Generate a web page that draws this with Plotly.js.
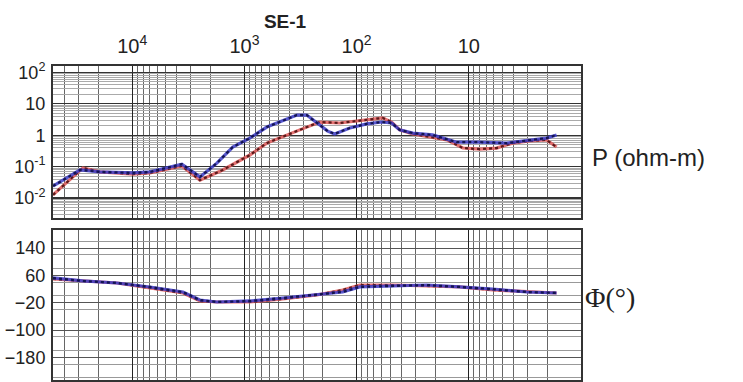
<!DOCTYPE html>
<html><head><meta charset="utf-8">
<script src="https://cdn.plot.ly/plotly-3.0.1.min.js"></script>
<style>html,body{margin:0;padding:0;background:#fff;}#chart{width:743px;height:382px;}</style>
</head><body><div id="chart"></div>
<script>
// Frequency (Hz) and apparent resistivity (ohm-m) / phase (deg)
const freqBlue = [50800, 29200, 19400, 9860, 6950, 3610, 2490, 1760, 1270, 895, 631, 455, 341, 278, 226, 181, 157, 115, 81.3, 59.8, 48.8, 41.3, 31.6, 21.0, 12.8, 8.0, 4.6, 2.87, 2.03, 1.65];
const rhoBlue  = [0.024, 0.078, 0.068, 0.063, 0.068, 0.12, 0.047, 0.129, 0.42, 0.81, 1.82, 2.82, 4.37, 4.37, 2.45, 1.35, 1.10, 1.70, 2.29, 2.63, 2.45, 1.48, 1.17, 1.02, 0.60, 0.60, 0.56, 0.71, 0.81, 1.02];
const freqRed  = [50800, 27500, 19400, 9860, 6950, 3610, 2490, 1560, 895, 631, 321, 213, 141, 81.3, 58.6, 48.8, 41.3, 31.6, 21.0, 15.7, 11.3, 8.0, 5.65, 4.07, 2.87, 2.03, 1.65];
const rhoRed   = [0.0126, 0.091, 0.068, 0.058, 0.063, 0.105, 0.037, 0.078, 0.234, 0.56, 1.48, 2.63, 2.45, 3.02, 3.55, 2.63, 1.48, 1.10, 0.87, 0.71, 0.39, 0.36, 0.39, 0.56, 0.66, 0.71, 0.42];
const freqPhase = [50800, 27500, 13700, 6950, 3530, 2490, 1760, 895, 455, 226, 133, 93.8, 47.8, 23.7, 12.1, 6.12, 3.05, 1.65];
const phaseBlue = [52.7, 43.9, 38, 26.3, 11.6, -11.8, -17.7, -14.7, -5.9, 2.9, 11.6, 26.3, 29.2, 32.1, 26.3, 20.4, 11.6, 8.7];
const phaseRed  = [49.7, 43.9, 38, 23.4, 8.7, -14.7, -17.7, -17.7, -8.9, 2.9, 17.5, 32.1, 32.1, 29.2, 26.3, 17.5, 11.6, 8.7];
const xTickVals = [10000, 1000, 100, 10];
const xTickText = ['10<sup>4</sup>', '10<sup>3</sup>', '10<sup>2</sup>', '10'];
const yTickVals = [100, 10, 1, 0.1, 0.01];
const yTickText = ['10<sup>2</sup>', '10', '1', '10<sup>-1</sup>', '10<sup>-2</sup>'];
const phTickVals = [140, 60, -20, -100, -180];

const BLUE = '#3c3cc8', BLUEDK = '#141450', RED = '#e05a5a', REDDK = '#5a1a1a';
function pair(x, y, xa, ya, c, dk) {
  return [
    {x: x, y: y, xaxis: xa, yaxis: ya, mode: 'lines', line: {color: c, width: 3.2}, opacity: 0.85, hoverinfo: 'skip', showlegend: false},
    {x: x, y: y, xaxis: xa, yaxis: ya, mode: 'lines', line: {color: dk, width: 2.2, dash: 'dot'}, showlegend: false}
  ];
}
const data = [].concat(
  pair(freqRed, rhoRed, 'x', 'y', RED, REDDK),
  pair(freqBlue, rhoBlue, 'x', 'y', BLUE, BLUEDK),
  pair(freqPhase, phaseRed, 'x2', 'y2', RED, REDDK),
  pair(freqPhase, phaseBlue, 'x2', 'y2', BLUE, BLUEDK)
);
const FONT = 'Liberation Sans, Arial, sans-serif';
const xBase = {
  type: 'log', range: [4.706, 0.0], showgrid: true, gridcolor: '#222', gridwidth: 1.2,
  tickvals: xTickVals, ticktext: xTickText,
  minor: {showgrid: true, gridcolor: '#666', gridwidth: 1, dtick: 'D1'},
  showline: true, mirror: true, linecolor: '#333', linewidth: 2, zeroline: false,
  automargin: false, ticks: ''
};
const layout = {
  width: 743, height: 382,
  margin: {l: 53, r: 162, t: 0, b: 0},
  paper_bgcolor: '#fff', plot_bgcolor: '#fff',
  font: {family: FONT, color: '#222', size: 18},
  title: {text: '<b>SE-1</b>', x: 285/743, xanchor: 'center', y: 1 - 21/382, yanchor: 'middle', font: {family: FONT, size: 19, color: '#222'}},
  xaxis: Object.assign({}, xBase, {domain: [0, 1], anchor: 'y', side: 'top', showticklabels: true, tickfont: {size: 20}, ticklabelstandoff: 3}),
  yaxis: {domain: [0.4293, 0.8272], anchor: 'x', type: 'log', range: [-2.637, 2.204], tickvals: yTickVals, ticktext: yTickText,
          tickfont: {size: 18}, showgrid: true, gridcolor: '#333', gridwidth: 1.2,
          minor: {showgrid: true, gridcolor: '#aaa', gridwidth: 1, dtick: 'D1'},
          showline: true, mirror: true, linecolor: '#333', linewidth: 2, zeroline: false, automargin: false, ticks: '', ticklabelstandoff: 2},
  xaxis2: Object.assign({}, xBase, {domain: [0, 1], anchor: 'y2', showticklabels: false}),
  yaxis2: {domain: [0.0052, 0.3979], anchor: 'x2', range: [-246, 193], tickvals: phTickVals, tickfont: {size: 18},
           showgrid: true, gridcolor: '#555', gridwidth: 1.2,
           minor: {showgrid: true, gridcolor: '#999', gridwidth: 1, dtick: 40},
           showline: true, mirror: true, linecolor: '#333', linewidth: 2, zeroline: false, automargin: false, ticks: '', ticklabelstandoff: 2},
  annotations: [
    {xref: 'paper', yref: 'paper', x: 1.017, y: 0.589, xanchor: 'left', yanchor: 'middle', text: 'P (ohm-m)', showarrow: false, font: {family: FONT, size: 24, color: '#222'}},
    {xref: 'paper', yref: 'paper', x: 1.004, y: 0.22, xanchor: 'left', yanchor: 'middle', text: 'Φ(°)', showarrow: false, font: {family: 'Liberation Serif, serif', size: 28, color: '#222'}}
  ]
};
Plotly.newPlot('chart', data, layout, {displayModeBar: false, staticPlot: true});
</script></body></html>
